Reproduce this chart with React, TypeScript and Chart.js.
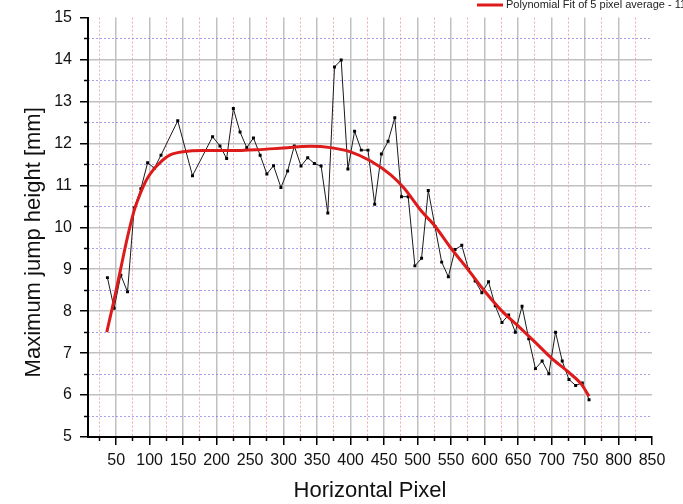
import { useEffect, useRef } from "react";
import { Chart, registerables } from "chart.js";

Chart.register(...registerables);

// Measured jump heights (black trace)
const pixelX = [
  37, 47, 57, 67, 77, 87, 97, 107, 117, 142, 164, 194, 205, 215, 225, 235, 245, 255, 265, 275,
  285, 296, 306, 316, 326, 336, 346, 356, 366, 376, 386, 396, 406, 416, 426, 436, 446, 456, 466, 476,
  486, 496, 506, 516, 526, 536, 546, 556, 566, 576, 586, 596, 606, 616, 626, 636, 646, 656, 666, 676,
  686, 696, 706, 716, 726, 736, 746, 756,
];
const jumpHeight = [
  8.8, 8.07, 8.86, 8.46, 10.46, 10.92, 11.54, 11.41, 11.72, 12.54, 11.23, 12.16, 11.94, 11.64, 12.83, 12.27, 11.9, 12.13, 11.72, 11.27,
  11.47, 10.95, 11.34, 11.94, 11.46, 11.66, 11.52, 11.46, 10.34, 13.82, 13.99, 11.39, 12.29, 11.84, 11.84, 10.55, 11.75, 12.05, 12.61, 10.73,
  10.73, 9.08, 9.26, 10.88, 10.02, 9.17, 8.82, 9.47, 9.57, 9.0, 8.72, 8.44, 8.7, 8.13, 7.73, 7.91, 7.5, 8.12, 7.34, 6.63,
  6.81, 6.51, 7.5, 6.81, 6.37, 6.23, 6.29, 5.89,
];

// Polynomial fit (red curve)
const fitX = [
  36, 46, 56, 66, 76, 86, 96, 106, 116, 130, 150, 180, 220, 260, 300, 340, 370, 400, 430, 460, 480,
  505, 525, 550, 575, 600, 625, 650, 675, 700, 725, 745, 756,
];
const fitHeight = [
  7.5, 8.2, 8.95, 9.7, 10.35, 10.8, 11.15, 11.38, 11.55, 11.72, 11.8, 11.83, 11.83, 11.85, 11.89, 11.93, 11.9, 11.8, 11.58, 11.25, 10.93,
  10.4, 10.05, 9.5, 9.0, 8.48, 8.02, 7.65, 7.27, 6.88, 6.55, 6.25, 5.97,
];

const xMajorTicks = [50, 100, 150, 200, 250, 300, 350, 400, 450, 500, 550, 600, 650, 700, 750, 800, 850];
const xMinorTicks = [25, 75, 125, 175, 225, 275, 325, 375, 425, 475, 525, 575, 625, 675, 725, 775, 825];
const yMajorTicks = [5, 6, 7, 8, 9, 10, 11, 12, 13, 14, 15];
const yMinorTicks = [5.5, 6.5, 7.5, 8.5, 9.5, 10.5, 11.5, 12.5, 13.5, 14.5];

const X_TITLE = "Horizontal Pixel";
const Y_TITLE = "Maximum jump height [mm]";
const FIT_LABEL = "Polynomial Fit of 5 pixel average - 11";

const FONT = "'Liberation Sans', Arial, sans-serif";
const FIT_COLOR = "#de1b1b";
const GRID_MAJOR = "#c0c0c0";
const GRID_MINOR_X = "rgba(228,120,120,0.6)";
const GRID_MINOR_Y = "rgba(120,110,228,0.65)";
const NONE = "rgba(0,0,0,0)";

const extras = {
  id: "extras",
  afterDraw(chart: any) {
    const { ctx, chartArea } = chart;
    ctx.save();
    // legend entry for the fit
    ctx.strokeStyle = FIT_COLOR;
    ctx.lineWidth = 3;
    ctx.beginPath();
    ctx.moveTo(477, 5);
    ctx.lineTo(503, 5);
    ctx.stroke();
    ctx.fillStyle = "#222";
    ctx.font = `11px ${FONT}`;
    ctx.textAlign = "left";
    ctx.textBaseline = "middle";
    ctx.fillText(FIT_LABEL, 506, 5);
    // y axis title
    ctx.translate(34, (chartArea.top + chartArea.bottom) / 2 + 15);
    ctx.rotate(-Math.PI / 2);
    ctx.font = `22px ${FONT}`;
    ctx.fillStyle = "#111";
    ctx.textAlign = "center";
    ctx.fillText(Y_TITLE, 0, 0);
    ctx.restore();
  },
};

export default function App() {
  const canvasRef = useRef<HTMLCanvasElement | null>(null);

  useEffect(() => {
    const canvas = canvasRef.current;
    if (!canvas) return;
    const chart = new Chart(canvas, {
      type: "line",
      data: {
        datasets: [
          {
            label: FIT_LABEL,
            data: fitX.map((x, i) => ({ x, y: fitHeight[i] })),
            borderColor: FIT_COLOR,
            borderWidth: 3,
            pointRadius: 0,
            cubicInterpolationMode: "monotone",
            xAxisID: "x",
            yAxisID: "y",
          },
          {
            label: "5 pixel average",
            data: pixelX.map((x, i) => ({ x, y: jumpHeight[i] })),
            borderColor: "#1a1a1a",
            borderWidth: 1,
            pointStyle: "rect",
            pointRadius: 2.1,
            pointBackgroundColor: "#000",
            pointBorderWidth: 0,
            tension: 0,
            xAxisID: "x",
            yAxisID: "y",
          },
        ],
      },
      options: {
        responsive: false,
        animation: false,
        events: [],
        devicePixelRatio: 1,
        layout: { padding: { top: 15, right: 31, left: 0, bottom: 0 } },
        plugins: { legend: { display: false }, tooltip: { enabled: false } },
        scales: {
          x: {
            type: "linear",
            position: "bottom",
            min: 8,
            max: 850,
            afterBuildTicks: (axis: any) => {
              axis.ticks = xMajorTicks.map((value) => ({ value }));
            },
            afterFit: (axis: any) => {
              axis.height = 67;
            },
            grid: {
              color: (c: any) => (c.tick && c.tick.value === 850 ? NONE : GRID_MAJOR),
              lineWidth: 1.5,
              tickColor: "#000",
              tickWidth: 1.5,
              tickLength: 8,
              tickBorderDash: [],
            },
            border: { display: true, color: "#000", width: 2 },
            ticks: {
              font: { family: FONT, size: 16 },
              color: "#111",
              padding: 6,
              maxRotation: 0,
              minRotation: 0,
              autoSkip: false,
              callback: (v: any) => String(v),
            },
            title: {
              display: true,
              text: X_TITLE,
              font: { family: FONT, size: 22 },
              color: "#111",
              padding: { top: 0, bottom: 0 },
            },
          },
          xMinor: {
            type: "linear",
            position: "bottom",
            weight: -1,
            min: 8,
            max: 850,
            afterBuildTicks: (axis: any) => {
              axis.ticks = xMinorTicks.map((value) => ({ value }));
            },
            afterFit: (axis: any) => {
              axis.height = 0;
            },
            grid: {
              color: GRID_MINOR_X,
              lineWidth: 1,
              tickColor: "#000",
              tickWidth: 1.5,
              tickLength: 4,
              tickBorderDash: [],
            },
            border: { display: false, dash: [2, 2] },
            ticks: { display: false },
          },
          y: {
            type: "linear",
            position: "left",
            min: 5,
            max: 15,
            afterBuildTicks: (axis: any) => {
              axis.ticks = yMajorTicks.map((value) => ({ value }));
            },
            afterFit: (axis: any) => {
              axis.width = 88;
            },
            grid: {
              color: (c: any) => (c.tick && c.tick.value === 15 ? NONE : GRID_MAJOR),
              lineWidth: 1.5,
              tickColor: "#000",
              tickWidth: 1.5,
              tickLength: 8,
              tickBorderDash: [],
            },
            border: { display: true, color: "#000", width: 2 },
            ticks: {
              font: { family: FONT, size: 16 },
              color: "#111",
              padding: 8,
              callback: (v: any) => String(v),
            },
          },
          yMinor: {
            type: "linear",
            position: "left",
            weight: -1,
            min: 5,
            max: 15,
            afterBuildTicks: (axis: any) => {
              axis.ticks = yMinorTicks.map((value) => ({ value }));
            },
            afterFit: (axis: any) => {
              axis.width = 0;
            },
            grid: {
              color: GRID_MINOR_Y,
              lineWidth: 1,
              tickColor: "#000",
              tickWidth: 1.5,
              tickLength: 4,
              tickBorderDash: [],
            },
            border: { display: false, dash: [2, 2] },
            ticks: { display: false },
          },
        },
      },
      plugins: [extras],
    } as any);
    return () => chart.destroy();
  }, []);

  return (
    <div style={{ position: "absolute", left: 0, top: 0, width: 683, height: 504, background: "#fff" }}>
      <canvas ref={canvasRef} width={683} height={504} />
    </div>
  );
}
